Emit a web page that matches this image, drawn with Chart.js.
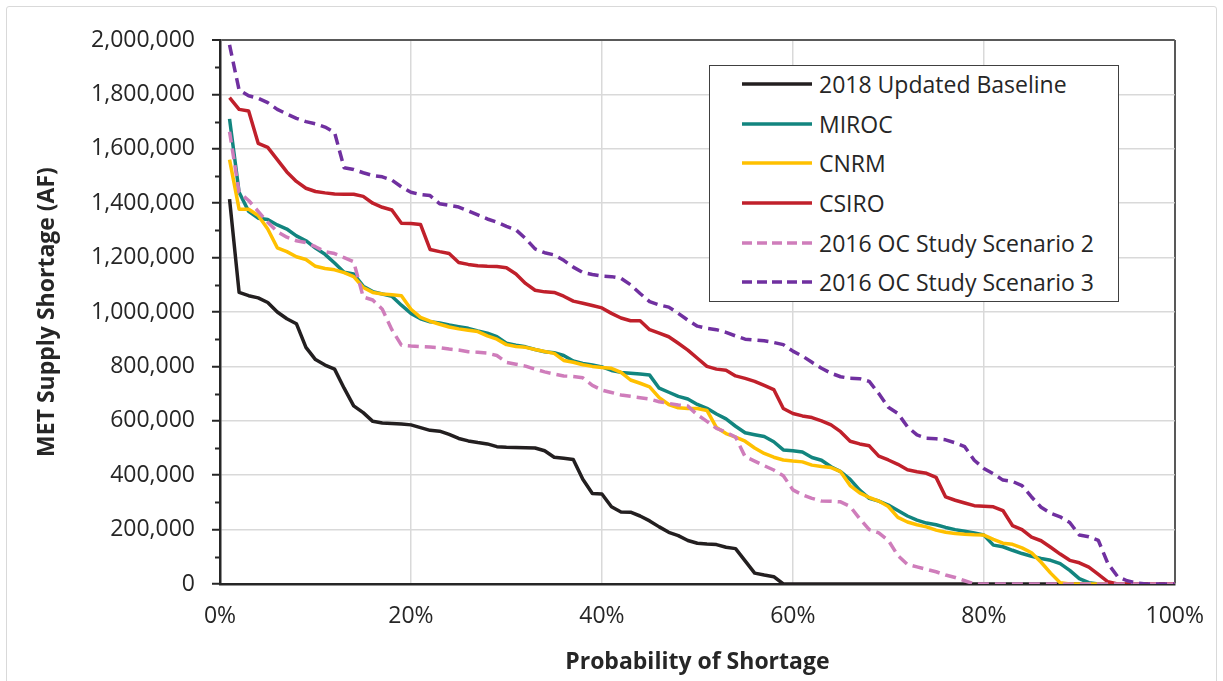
<!DOCTYPE html>
<html>
<head>
<meta charset="utf-8">
<script src="https://cdn.jsdelivr.net/npm/chart.js@4.4.1/dist/chart.umd.min.js"></script>
<style>
  html, body { margin: 0; padding: 0; background: #fff; }
  #wrap { position: relative; width: 1223px; height: 681px; overflow: hidden; background: #fff; }
  #frame { position: absolute; left: 6px; top: 6px; width: 1211px; height: 690px; border: 1.5px solid #d9d9d9; border-radius: 3px; box-sizing: border-box; }
  canvas { position: absolute; left: 0; top: 0; }
  #legend { position: absolute; left: 709px; top: 65px; width: 410px; height: 237px; box-sizing: border-box;
            border: 1.5px solid #404040; background: #fff; font: 23px "Open Sans", sans-serif; color: #262626; }
  .row { height: 39.6px; display: flex; align-items: center; }
  .row:first-child { margin-top: -1.5px; }
  .row svg { margin-left: 32px; width: 70px; height: 8px; flex: none; }
  .row span { margin-left: 7px; white-space: nowrap; }
</style>
</head>
<body>
<div id="wrap">
  <div id="frame"></div>
  <canvas id="chart" width="1223" height="681"></canvas>
  <div id="legend"></div>
</div>
<script>
// exceedance probability (%)
const probability = [
  1, 2, 3, 4, 5, 6, 7, 8, 9, 10, 11, 12, 13, 14, 15, 16, 17, 18, 19, 20,
  21, 22, 23, 24, 25, 26, 27, 28, 29, 30, 31, 32, 33, 34, 35, 36, 37, 38, 39, 40,
  41, 42, 43, 44, 45, 46, 47, 48, 49, 50, 51, 52, 53, 54, 55, 56, 57, 58, 59, 60,
  61, 62, 63, 64, 65, 66, 67, 68, 69, 70, 71, 72, 73, 74, 75, 76, 77, 78, 79, 80,
  81, 82, 83, 84, 85, 86, 87, 88, 89, 90, 91, 92, 93, 94, 95, 96, 97, 98, 99, 100
];

// MET supply shortage (AF)
const baseline2018 = [
  1415000, 1072000, 1060000, 1052000, 1035000, 1000000, 975000, 957000, 870000, 825000,
  805000, 790000, 720000, 655000, 630000, 598000, 592000, 590000, 588000, 585000,
  575000, 565000, 562000, 550000, 535000, 526000, 520000, 515000, 505000, 503000,
  502000, 501000, 500000, 490000, 466000, 462000, 458000, 385000, 333000, 331000,
  284000, 265000, 264000, 250000, 232000, 210000, 190000, 178000, 160000, 150000,
  147000, 145000, 135000, 130000, 85000, 40000, 33000, 27000, 0, 0,
  0, 0, 0, 0, 0, 0, 0, 0, 0, 0,
  0, 0, 0, 0, 0, 0, 0, 0, 0, 0,
  0, 0, 0, 0, 0, 0, 0, 0, 0, 0,
  0, 0, 0, 0, 0, 0, 0, 0, 0, 0
];
const miroc = [
  1710000, 1440000, 1370000, 1345000, 1340000, 1320000, 1305000, 1280000, 1262000, 1235000,
  1212000, 1180000, 1146000, 1140000, 1095000, 1075000, 1066000, 1058000, 1025000, 995000,
  975000, 964000, 960000, 952000, 946000, 940000, 930000, 922000, 909000, 885000,
  878000, 872000, 862000, 854000, 850000, 840000, 820000, 811000, 805000, 798000,
  785000, 778000, 775000, 772000, 768000, 720000, 705000, 690000, 680000, 660000,
  646000, 625000, 607000, 580000, 556000, 549000, 542000, 523000, 493000, 490000,
  485000, 465000, 455000, 431000, 413000, 385000, 345000, 315000, 305000, 290000,
  270000, 250000, 235000, 224000, 218000, 208000, 200000, 194000, 188000, 180000,
  143000, 137000, 124000, 112000, 102000, 94000, 87000, 75000, 50000, 20000,
  5000, 0, 0, 0, 0, 0, 0, 0, 0, 0
];
const cnrm = [
  1560000, 1378000, 1378000, 1355000, 1305000, 1236000, 1222000, 1203000, 1193000, 1168000,
  1160000, 1155000, 1145000, 1130000, 1090000, 1072000, 1066000, 1063000, 1060000, 1010000,
  980000, 966000, 955000, 945000, 938000, 933000, 928000, 912000, 900000, 880000,
  873000, 870000, 862000, 855000, 848000, 822000, 815000, 806000, 800000, 796000,
  793000, 778000, 750000, 738000, 725000, 685000, 660000, 648000, 645000, 645000,
  638000, 575000, 553000, 540000, 525000, 500000, 480000, 466000, 456000, 452000,
  449000, 437000, 432000, 428000, 413000, 362000, 335000, 318000, 305000, 285000,
  245000, 228000, 218000, 210000, 198000, 190000, 186000, 183000, 181000, 180000,
  164000, 150000, 146000, 133000, 115000, 80000, 40000, 5000, 0, 0,
  0, 0, 0, 0, 0, 0, 0, 0, 0, 0
];
const csiro = [
  1788000, 1745000, 1739000, 1620000, 1605000, 1560000, 1515000, 1480000, 1455000, 1443000,
  1438000, 1434000, 1433000, 1433000, 1425000, 1400000, 1385000, 1375000, 1326000, 1325000,
  1322000, 1230000, 1222000, 1215000, 1182000, 1175000, 1170000, 1168000, 1167000, 1163000,
  1140000, 1105000, 1080000, 1074000, 1072000, 1058000, 1040000, 1032000, 1024000, 1015000,
  995000, 978000, 968000, 968000, 935000, 922000, 909000, 885000, 860000, 830000,
  800000, 790000, 786000, 765000, 756000, 745000, 730000, 715000, 645000, 627000,
  618000, 612000, 600000, 585000, 560000, 525000, 515000, 508000, 470000, 456000,
  440000, 420000, 413000, 407000, 392000, 320000, 308000, 298000, 288000, 286000,
  284000, 270000, 215000, 200000, 172000, 159000, 135000, 110000, 87000, 78000,
  62000, 35000, 8000, 0, 0, 0, 0, 0, 0, 0
];
const ocScenario2 = [
  1663000, 1440000, 1410000, 1370000, 1330000, 1295000, 1275000, 1262000, 1255000, 1240000,
  1222000, 1215000, 1200000, 1185000, 1055000, 1044000, 1010000, 935000, 878000, 875000,
  873000, 871000, 869000, 864000, 860000, 854000, 852000, 849000, 840000, 815000,
  808000, 801000, 790000, 780000, 772000, 765000, 763000, 758000, 730000, 713000,
  704000, 695000, 690000, 685000, 680000, 670000, 664000, 658000, 654000, 622000,
  598000, 572000, 558000, 540000, 468000, 452000, 435000, 419000, 398000, 346000,
  328000, 315000, 305000, 304000, 302000, 285000, 240000, 200000, 188000, 160000,
  105000, 72000, 63000, 54000, 45000, 33000, 24000, 12000, 0, 0,
  0, 0, 0, 0, 0, 0, 0, 0, 0, 0,
  0, 0, 0, 0, 0, 0, 0, 0, 0, 0
];
const ocScenario3 = [
  1982000, 1816000, 1795000, 1786000, 1770000, 1745000, 1728000, 1712000, 1700000, 1692000,
  1680000, 1660000, 1530000, 1524000, 1512000, 1502000, 1497000, 1485000, 1460000, 1440000,
  1432000, 1428000, 1398000, 1392000, 1386000, 1372000, 1357000, 1342000, 1330000, 1315000,
  1302000, 1270000, 1232000, 1218000, 1210000, 1190000, 1165000, 1145000, 1138000, 1132000,
  1130000, 1124000, 1100000, 1068000, 1038000, 1026000, 1018000, 995000, 970000, 948000,
  940000, 935000, 925000, 912000, 900000, 897000, 894000, 888000, 880000, 856000,
  838000, 815000, 793000, 775000, 762000, 756000, 755000, 745000, 700000, 650000,
  627000, 578000, 548000, 536000, 534000, 530000, 519000, 505000, 455000, 425000,
  405000, 382000, 377000, 362000, 320000, 282000, 260000, 247000, 226000, 180000,
  174000, 160000, 75000, 28000, 12000, 4000, 0, 0, 0, 0
];

const seriesNames = ['2018 Updated Baseline', 'MIROC', 'CNRM', 'CSIRO', '2016 OC Study Scenario 2', '2016 OC Study Scenario 3'];
const seriesValues = [baseline2018, miroc, cnrm, csiro, ocScenario2, ocScenario3];
const seriesColors = ['#231f20', '#12857f', '#ffc000', '#c0202b', '#cf7dbb', '#7030a0'];
const seriesDashed = [false, false, false, false, true, true];

const xTickValues = [0, 20, 40, 60, 80, 100];
const yTickValues = [0, 200000, 400000, 600000, 800000, 1000000, 1200000, 1400000, 1600000, 1800000, 2000000];
const yMinorTickValues = [100000, 300000, 500000, 700000, 900000, 1100000, 1300000, 1500000, 1700000, 1900000];

const FONT = 'Open Sans';
const TEXT = '#262626';
const DASH = [11, 6];

// short outward ticks between the labelled ones
const minorTicks = {
  id: 'minorTicks',
  afterDraw(chart) {
    const y = chart.scales.y, ctx = chart.ctx;
    ctx.save();
    ctx.strokeStyle = TEXT;
    ctx.lineWidth = 2;
    yMinorTickValues.forEach((v) => {
      const py = Math.round(y.getPixelForValue(v)) + 0.5;
      ctx.beginPath();
      ctx.moveTo(y.right - 5, py);
      ctx.lineTo(y.right, py);
      ctx.stroke();
    });
    ctx.restore();
  },
};

const datasets = seriesValues.map((vals, i) => ({
  label: seriesNames[i],
  data: probability.map((p, k) => ({ x: p, y: vals[k] })),
  borderColor: seriesColors[i],
  borderDash: seriesDashed[i] ? DASH : [],
  order: seriesValues.length - i,
}));

new Chart(document.getElementById('chart'), {
  type: 'line',
  data: { datasets },
  options: {
    responsive: false,
    animation: false,
    devicePixelRatio: 1,
    layout: { padding: { top: 40, right: 40, bottom: 0, left: 0 } },
    plugins: { legend: { display: false }, tooltip: { enabled: false } },
    elements: {
      point: { radius: 0 },
      line: { borderWidth: 3.5, tension: 0, borderJoinStyle: 'round', fill: false },
    },
    scales: {
      x: {
        type: 'linear', min: 0, max: 100,
        afterBuildTicks: (s) => { s.ticks = xTickValues.map((v) => ({ value: v })); },
        afterFit: (s) => { s.height = 97; },
        ticks: { callback: (v) => v + '%', padding: 19, color: TEXT, font: { family: FONT, size: 23 }, maxRotation: 0, autoSkip: false },
        grid: {
          drawTicks: false,
          color: (c) => (c.tick && c.tick.value === 100 ? '#595959' : '#d9d9d9'),
          lineWidth: (c) => (c.tick && c.tick.value === 100 ? 2 : 1.5),
        },
        border: { color: TEXT, width: 2.5 },
        title: { display: true, text: 'Probability of Shortage', color: TEXT, font: { family: FONT, size: 23, weight: 'bold' }, padding: { top: 0, bottom: 5 } },
      },
      y: {
        min: 0, max: 2000000,
        afterBuildTicks: (s) => { s.ticks = yTickValues.map((v) => ({ value: v })); },
        afterFit: (s) => { s.width = 220; },
        ticks: { callback: (v) => v.toLocaleString('en-US'), padding: 17, color: TEXT, font: { family: FONT, size: 23 } },
        grid: {
          tickLength: 8, tickColor: TEXT, tickWidth: 2,
          color: (c) => (c.tick && c.tick.value === 2000000 ? '#595959' : '#d9d9d9'),
          lineWidth: (c) => (c.tick && c.tick.value === 2000000 ? 2 : 1.5),
        },
        border: { color: TEXT, width: 2.5 },
        title: { display: true, text: 'MET Supply Shortage (AF)', color: TEXT, font: { family: FONT, size: 23, weight: 'bold' }, padding: { top: 34, bottom: 0 } },
      },
    },
  },
  plugins: [minorTicks],
});

// legend box drawn over the plot, as in the original
const legend = document.getElementById('legend');
seriesNames.forEach((name, i) => {
  const row = document.createElement('div');
  row.className = 'row';
  const dash = seriesDashed[i] ? ' stroke-dasharray="10 5"' : '';
  row.innerHTML = '<svg viewBox="0 0 70 8"><line x1="0" y1="4" x2="70" y2="4" stroke="' + seriesColors[i] +
    '" stroke-width="3.5"' + dash + '/></svg><span>' + name + '</span>';
  legend.appendChild(row);
});
</script>
</body>
</html>
